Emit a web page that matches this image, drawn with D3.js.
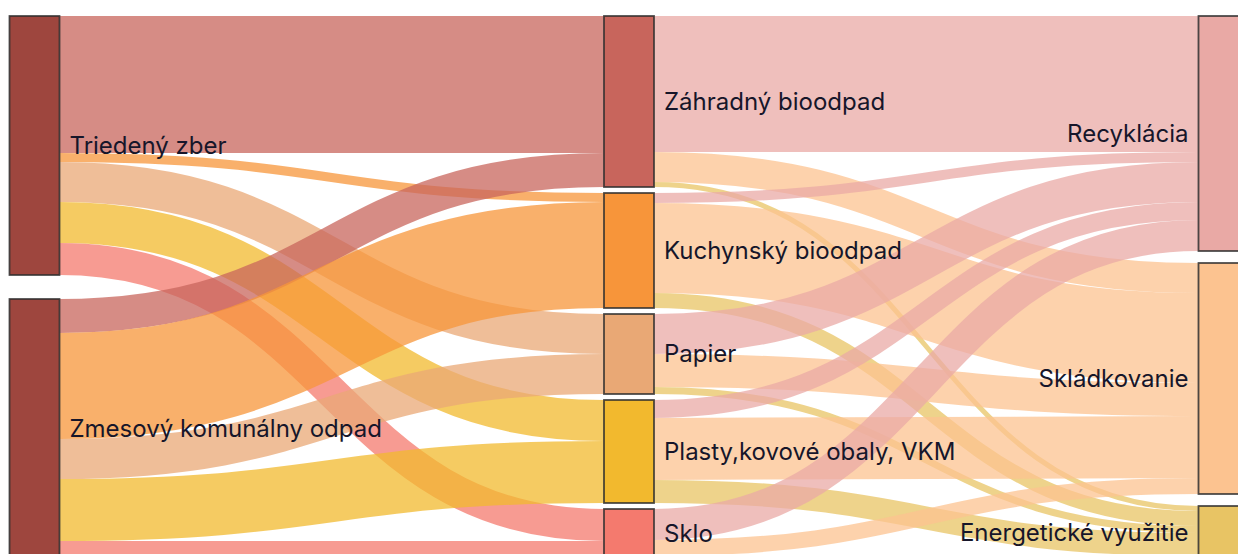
<!DOCTYPE html>
<html lang="sk">
    <head>
        <meta charset="utf-8">
        <title>Tok komunálneho odpadu</title>
        <script type="text/javascript" src="https://cdn.jsdelivr.net/npm/d3@7"></script>
        <style type="text/css">
            body { margin: 0; background: #fff; }
            svg { display: block; overflow: hidden; }
            text { font-family: Inter, "Noto Sans", sans-serif; font-size: 24px; fill: #16162a; }
        </style>
    </head>
    <body>
        <script type="text/javascript">
            var w = 1238;
            var h = 554;

            //Data
            var sources = ["Triedený zber", "Zmesový komunálny odpad"];
            var fractions = ["Záhradný bioodpad", "Kuchynský bioodpad", "Papier", "Plasty,kovové obaly, VKM", "Sklo"];
            var treatments = ["Recyklácia", "Skládkovanie", "Energetické využitie"];

            // rows = sources, columns = fractions
            var collectionFlows = [
                [137, 9, 40, 41, 32],
                [34, 106, 40, 62, 18]
            ];
            // rows = fractions, columns = treatments
            var treatmentFlows = [
                [136, 30, 5],
                [10, 90, 15],
                [40, 33, 7],
                [18, 62, 23],
                [31, 16, 3]
            ];

            var sourceColors = ["#9e463e", "#9e463e"];
            var fractionColors = ["#c8655c", "#f7953a", "#e9a875", "#f2b92e", "#f47a6e"];
            var treatmentColors = ["#e9a9a5", "#fcc390", "#e8c464"];

            //Build nodes and links
            var columns = [sources, fractions, treatments];
            var colColors = [sourceColors, fractionColors, treatmentColors];
            var nodes = [];
            columns.forEach(function(names, c) {
                names.forEach(function(n, i) {
                    nodes.push({name: n, col: c, index: i, color: colColors[c][i], sourceLinks: [], targetLinks: []});
                });
            });
            function node(c, i) {
                return nodes.filter(function(d) { return d.col === c && d.index === i; })[0];
            }
            var links = [];
            collectionFlows.forEach(function(row, s) {
                row.forEach(function(v, t) { links.push({source: node(0, s), target: node(1, t), value: v}); });
            });
            treatmentFlows.forEach(function(row, s) {
                row.forEach(function(v, t) { links.push({source: node(1, s), target: node(2, t), value: v}); });
            });
            links.forEach(function(l) {
                l.source.sourceLinks.push(l);
                l.target.targetLinks.push(l);
            });
            nodes.forEach(function(d) {
                d.value = Math.max(d3.sum(d.sourceLinks, function(l) { return l.value; }),
                                   d3.sum(d.targetLinks, function(l) { return l.value; }));
            });

            //Layout: columns justified over the extent
            var extent = [16, 559];
            var nodePadding = 6;
            var nodeWidth = 50;
            var xScale = d3.scaleLinear()
               .domain([0, 2])
               .range([9.5, 1198.5]);

            var ky = d3.min(columns, function(names, c) {
                var colNodes = nodes.filter(function(d) { return d.col === c; });
                return (extent[1] - extent[0] - (colNodes.length - 1) * nodePadding) / d3.sum(colNodes, function(d) { return d.value; });
            });
            var yScale = d3.scaleLinear().domain([0, 1]).range([0, ky]);

            columns.forEach(function(names, c) {
                var colNodes = nodes.filter(function(d) { return d.col === c; });
                var total = d3.sum(colNodes, function(d) { return yScale(d.value); });
                var gap = colNodes.length > 1 ? (extent[1] - extent[0] - total) / (colNodes.length - 1) : 0;
                var y = extent[0];
                colNodes.forEach(function(d) {
                    d.x0 = xScale(c);
                    d.x1 = d.x0 + nodeWidth;
                    d.y0 = y;
                    d.y1 = y + yScale(d.value);
                    y = d.y1 + gap;
                });
            });

            links.forEach(function(l) { l.width = yScale(l.value); });
            nodes.forEach(function(d) {
                var y0 = d.y0;
                d.sourceLinks.sort(function(a, b) { return a.target.y0 - b.target.y0; }).forEach(function(l) {
                    l.y0 = y0 + l.width / 2;
                    y0 += l.width;
                });
                var y1 = d.y0;
                d.targetLinks.sort(function(a, b) { return a.source.y0 - b.source.y0; }).forEach(function(l) {
                    l.y1 = y1 + l.width / 2;
                    y1 += l.width;
                });
            });

            //Create SVG element
            var svg = d3.select("body")
                .append("svg")
                .attr("width", w)
                .attr("height", h);

            var linkPath = d3.linkHorizontal()
                .source(function(l) { return [l.source.x1, l.y0]; })
                .target(function(l) { return [l.target.x0, l.y1]; });

            svg.append("g")
                .selectAll("path")
                .data(links)
                .enter()
                .append("path")
                .attr("d", linkPath)
                .attr("fill", "none")
                .attr("stroke", function(l) { return l.target.color; })
                .attr("stroke-opacity", 0.75)
                .attr("stroke-width", function(l) { return Math.max(1, l.width); });

            svg.append("g")
                .selectAll("rect")
                .data(nodes)
                .enter()
                .append("rect")
                .attr("x", function(d) { return d.x0; })
                .attr("y", function(d) { return d.y0; })
                .attr("width", function(d) { return d.x1 - d.x0; })
                .attr("height", function(d) { return d.y1 - d.y0; })
                .attr("fill", function(d) { return d.color; })
                .attr("stroke", "#2e2e2e")
                .attr("stroke-opacity", 0.85)
                .attr("stroke-width", 1.8);

            svg.append("g")
                .selectAll("text")
                .data(nodes)
                .enter()
                .append("text")
                .attr("x", function(d) { return d.col < 2 ? d.x1 + 10 : d.x0 - 10; })
                .attr("y", function(d) { return (d.y0 + d.y1) / 2; })
                .attr("dy", "0.35em")
                .attr("text-anchor", function(d) { return d.col < 2 ? "start" : "end"; })
                .text(function(d) { return d.name; });
        </script>
    </body>
</html>
